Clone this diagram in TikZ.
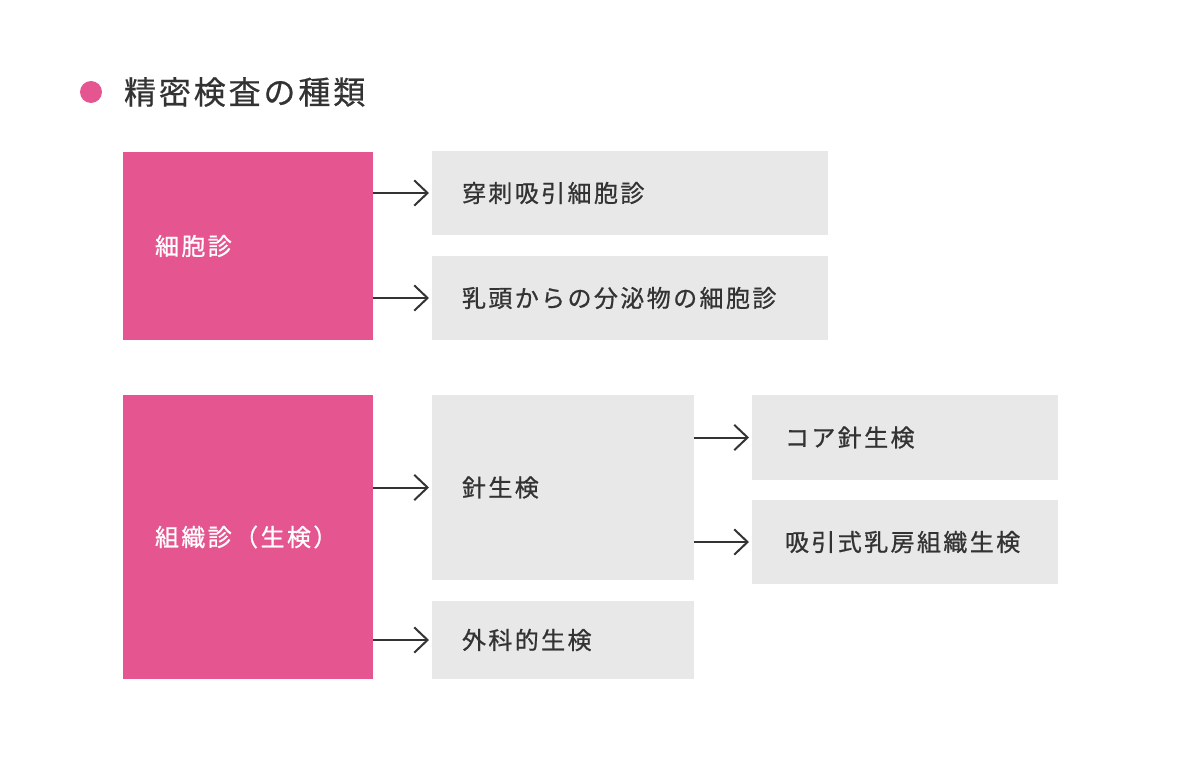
\documentclass[tikz,border=0pt]{standalone}
\usepackage{fontspec}
\usepackage{tikz}
\usetikzlibrary{arrows.meta,positioning}
\newfontfamily\jptitle[LetterSpace=9,FakeBold=0.6]{Noto Sans CJK JP}
\newfontfamily\jpbox[LetterSpace=10,FakeBold=0.8]{Noto Sans CJK JP}
\definecolor{kpink}{HTML}{E5558F}
\definecolor{kgray}{HTML}{E8E8E8}
\definecolor{ktext}{HTML}{333333}

\begin{document}
\begin{tikzpicture}[x=0.75pt,y=-0.75pt,-{Straight Barb[length=10pt,width=19pt]},shorten >=2.25pt,line width=1.5pt,color=ktext]
\tikzstyle{pinkbox} = [rectangle, fill=kpink, text=white, font=\fontsize{18pt}{22pt}\selectfont\jpbox, align=left, inner xsep=24pt, outer sep=0pt, text width=139.5pt, anchor=north west]
\tikzstyle{graybox} = [rectangle, fill=kgray, text=ktext, font=\fontsize{18pt}{22pt}\selectfont\jpbox, align=left, inner xsep=22.5pt, outer sep=0pt, anchor=north west]
\useasboundingbox (0,0) rectangle (1201,759);
\node[circle, fill=kpink, minimum size=16.5pt, inner sep=0pt] (dot) at (91,92) {};
\node[right=15pt of dot, inner sep=0pt, font=\fontsize{24pt}{28pt}\selectfont\jptitle] (title) {精密検査の種類};
\node[pinkbox, minimum height=141pt] (saibo) at (123,152) {細胞診};
\node[pinkbox, minimum height=213pt] (soshiki) at (123,395) {組織診（生検）};
\node[graybox, text width=252pt, minimum height=63pt] (senshi) at (432,151) {穿刺吸引細胞診};
\node[graybox, text width=252pt, minimum height=63pt, below right=15.75pt and 0pt of senshi.south west] (nyuto) {乳頭からの分泌物の細胞診};
\node[graybox, text width=151.5pt, minimum height=138.75pt] (hari) at (432,395) {針生検};
\node[graybox, text width=151.5pt, minimum height=58.5pt, below right=15.75pt and 0pt of hari.south west] (geka) {外科的生検};
\node[graybox, text width=180pt, inner xsep=24.75pt, minimum height=63.75pt] (core) at (752,395) {コア針生検};
\node[graybox, text width=180pt, inner xsep=24.75pt, minimum height=63pt, below right=15pt and 0pt of core.south west] (kyuin) {吸引式乳房組織生検};
\path (saibo.east |- senshi) edge (senshi.west)
      (saibo.east |- nyuto) edge (nyuto.west)
      (soshiki.east |- hari) edge (hari.west)
      (soshiki.east |- geka) edge (geka.west)
      (hari.east |- core) edge (core.west)
      (hari.east |- kyuin) edge (kyuin.west);
\end{tikzpicture}
\end{document}
